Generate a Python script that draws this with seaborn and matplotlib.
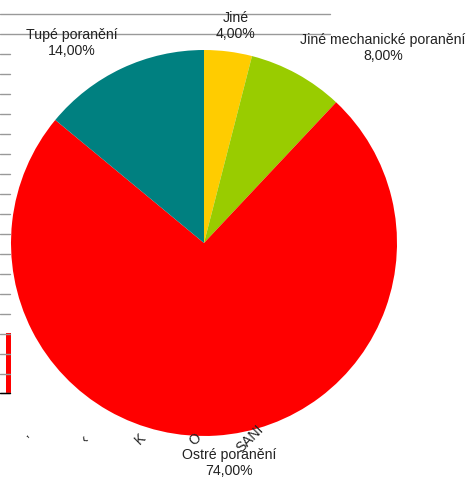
import matplotlib
matplotlib.use("Agg")
import matplotlib.pyplot as plt
import seaborn as sns
import numpy as np

# pie data (clockwise from the top)
categories = ["Jiné", "Jiné mechanické poranění", "Ostré poranění", "Tupé poranění"]
shares = [4.0, 8.0, 74.0, 14.0]
colors = ["#FFCC00", "#99CC00", "#FF0000", "#008080"]

# leftovers of the chart underneath (grid lines, ticks, one bar)
grid_y = [465, 445]
tick_y = [425, 405, 385, 365, 345, 325, 305, 285, 265, 245, 225, 205, 185, 165, 145, 125, 105, 86]
bar_value = [60]
bottom_frags = ["\u2019", "\u2039", "K", "O", "SANI"]

sns.set_style("white")
plt.rcParams['font.family'] = ['Liberation Sans', 'DejaVu Sans']

W, H = 470, 479
fig = plt.figure(figsize=(W / 100, H / 100), dpi=100)
ax = fig.add_axes([0, 0, 1, 1])

# background residue
for gy in grid_y:
    ax.plot([0, 330], [gy, gy], color="#999999", lw=1)
for ty in tick_y:
    ax.plot([0, 10], [ty, ty], color="#999999", lw=1)
ax.bar([8], bar_value, bottom=86, width=5, color="#FF0000", edgecolor="none")
ax.plot([0, 10], [86, 86], color="black", lw=1)
for i, t in enumerate(bottom_frags):
    ax.text(30 + i * 55, 40, t, rotation=45, fontsize=10, ha="center", va="center", color="#222222")

# the pie
ax.pie(shares, colors=colors, startangle=90, counterclock=False,
       center=(204, 236), radius=193, frame=True,
       wedgeprops={"edgecolor": "none", "linewidth": 0})
ax.set_xlim(0, W)
ax.set_ylim(0, H)
ax.set_aspect("equal")
ax.axis("off")

label_pos = [(236, 453), (383, 431), (229, 16), (72, 436)]
for name, val, (lx, ly) in zip(categories, shares, label_pos):
    txt = f"{name}\n{val:.2f}%".replace(".", ",")
    ax.text(lx, ly, txt, ha="center", va="center", fontsize=10.2, color="#222222", linespacing=1.15)

fig.savefig("out.png", dpi=100)
